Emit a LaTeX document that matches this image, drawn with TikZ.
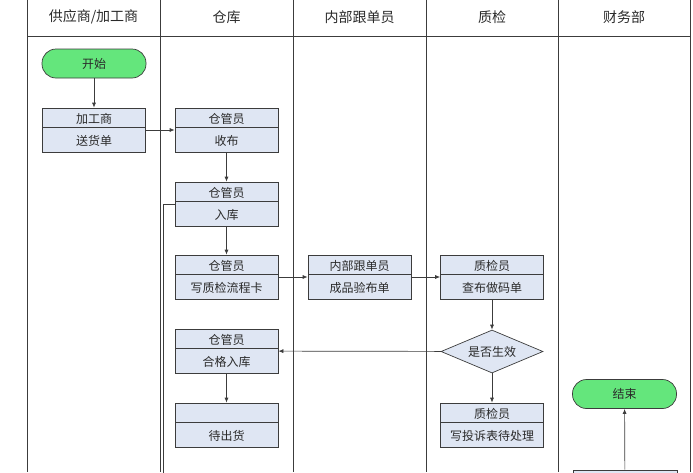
\documentclass[tikz,border=0pt]{standalone}
\usepackage{fontspec}
\setmainfont{Noto Sans CJK SC}
\usetikzlibrary{arrows.meta, shapes.geometric}
\definecolor{boxfill}{HTML}{DFE6F3}
\definecolor{boxline}{HTML}{3C3C3C}
\definecolor{termfill}{HTML}{64E67C}
\definecolor{inktext}{HTML}{2A2A2A}

\begin{document}
\begin{tikzpicture}[x=1pt, y=-1pt,
    lane/.style={draw=boxline, line width=0.8pt},
    head/.style={text=inktext, font=\fontsize{14}{16}\selectfont},
    stepbox/.style={draw=boxline, fill=boxfill, line width=0.7pt, text=inktext,
        minimum width=103pt, minimum height=44pt, inner sep=0pt,
        align=center, font=\fontsize{12}{22}\selectfont,
        path picture={\draw[boxline, line width=0.7pt]
            ([yshift=-19pt]path picture bounding box.north west) --
            ([yshift=-19pt]path picture bounding box.north east);}},
    term/.style={draw=boxline, fill=termfill, line width=0.7pt, rounded corners=14pt,
        minimum width=104pt, minimum height=29pt, text=inktext,
        font=\fontsize{12}{14}\selectfont},
    check/.style={diamond, draw=boxline, fill=boxfill, line width=0.7pt, aspect=2.4,
        minimum width=102pt, minimum height=43pt, inner sep=0pt, text=inktext,
        font=\fontsize{12}{14}\selectfont},
    flow/.style={draw=boxline, line width=0.7pt, -{Latex[length=5pt, width=4pt]}}]
    \useasboundingbox (0,0) rectangle (693,472);

    % swimlanes
    \foreach \x in {27,160,293,426,558,690}
        \draw[lane] (\x,0) -- (\x,472);
    \draw[lane] (27,36) -- (690,36);
    \node[head] (laneA) at (93.5,17) {供应商/加工商};
    \node[head] (laneB) at (226.5,17) {仓库};
    \node[head] (laneC) at (359.5,17) {内部跟单员};
    \node[head] (laneD) at (492,17) {质检};
    \node[head] (laneE) at (624,17) {财务部};

    % steps
    \node[term] (start) at (94,63.5) {开始};
    \node[stepbox] (songhuo) at (94,130) {加工商\\送货单};
    \node[stepbox] (shoubu) at (226.5,130) {仓管员\\收布};
    \node[stepbox] (ruku) at (226.5,204) {仓管员\\入库};
    \node[stepbox] (liucheng) at (226.5,277) {仓管员\\写质检流程卡};
    \node[stepbox] (yanbu) at (359.5,277) {内部跟单员\\成品验布单};
    \node[stepbox] (mabiao) at (492,277) {质检员\\查布做码单};
    \node[check] (shengxiao) at (492,351.5) {是否生效};
    \node[stepbox] (hege) at (226.5,351) {仓管员\\合格入库};
    \node[stepbox] (daichu) at (226.5,425) {\vphantom{仓}\\待出货};
    \node[stepbox] (tousu) at (492,425) {质检员\\写投诉表待处理};
    \node[term] (jieshu) at (624.5,394) {结束};
    \node[stepbox, minimum width=104pt] (caiwu) at (625,492) {};
    \coordinate (rukuOut) at (163,480);

    % connectors
    \draw[flow] (start) -- (songhuo);
    \draw[flow] (songhuo) -- (shoubu);
    \draw[flow] (shoubu) -- (ruku);
    \draw[flow] (ruku) -- (liucheng);
    \draw[flow] (liucheng) -- (yanbu);
    \draw[flow] (yanbu) -- (mabiao);
    \draw[flow] (mabiao) -- (shengxiao);
    \draw[flow] (shengxiao) -- (hege);
    \draw[flow] (shengxiao) -- (tousu);
    \draw[flow] (hege) -- (daichu);
    \draw[flow] (caiwu) -- (jieshu);
    \draw[draw=boxline, line width=0.7pt] (ruku.west) -| (rukuOut);
\end{tikzpicture}
\end{document}
